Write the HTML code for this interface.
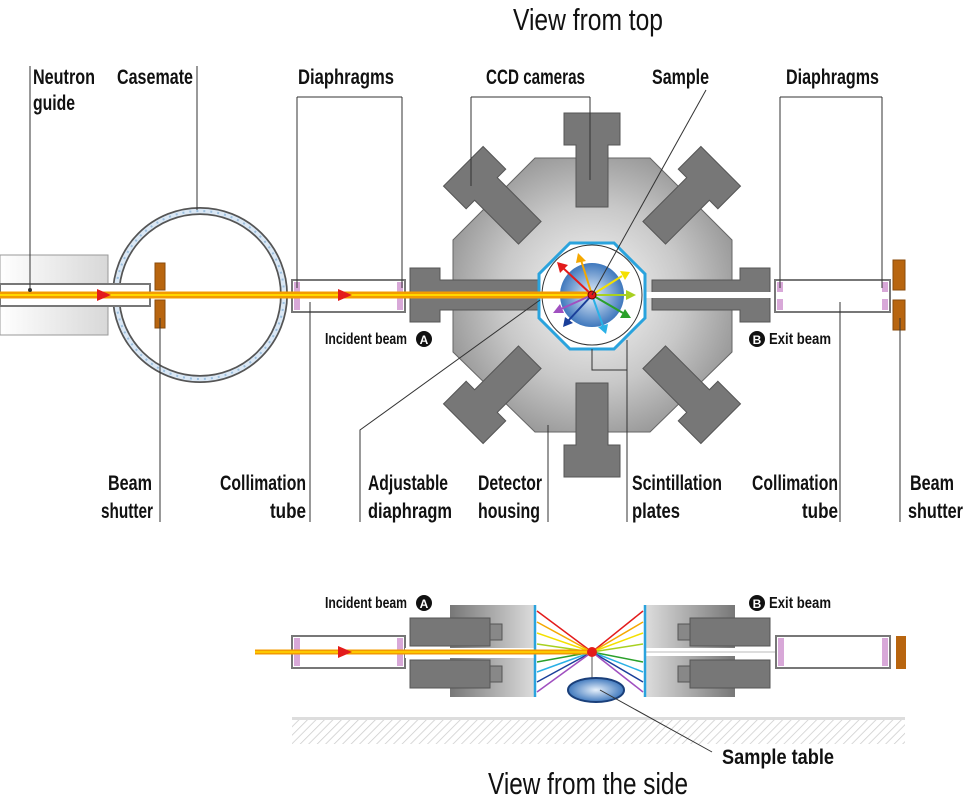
<!DOCTYPE html>
<html><head><meta charset="utf-8"><style>
html,body{margin:0;padding:0;background:#fff}
svg{display:block}
text{font-family:"Liberation Sans Narrow","Liberation Sans",sans-serif;fill:#111;font-weight:bold}
.l{font-size:21px}
</style></head><body>
<svg width="966" height="800" viewBox="0 0 966 800" xmlns="http://www.w3.org/2000/svg">
<defs>
<radialGradient id="hous" cx="0.5" cy="0.5" r="0.6">
<stop offset="0" stop-color="#fafafa"/><stop offset="0.55" stop-color="#c8c8c8"/><stop offset="1" stop-color="#8c8c8c"/>
</radialGradient>
<radialGradient id="sph" cx="0.5" cy="0.5" r="0.5">
<stop offset="0" stop-color="#e6f0fb"/><stop offset="1" stop-color="#3f78bd"/>
</radialGradient>
<linearGradient id="guide" x1="0" x2="1"><stop offset="0" stop-color="#fff"/><stop offset="1" stop-color="#d8d8d8"/></linearGradient>
<linearGradient id="sbox" x1="0" x2="1"><stop offset="0" stop-color="#777"/><stop offset="1" stop-color="#ddd"/></linearGradient>
<linearGradient id="sboxr" x1="1" x2="0"><stop offset="0" stop-color="#777"/><stop offset="1" stop-color="#ddd"/></linearGradient>
<pattern id="hatch" width="6" height="6" patternUnits="userSpaceOnUse" patternTransform="rotate(45)">
<line x1="0" y1="0" x2="0" y2="6" stroke="#ccc" stroke-width="1.5"/></pattern>
<g id="cam"><path d="M-16,-88 L16,-88 L16,-150 L28,-150 L28,-182 L-28,-182 L-28,-150 L-16,-150 Z" fill="#777" stroke="#555" stroke-width="1"/></g>
</defs>

<text x="588" y="30" font-size="31" text-anchor="middle" textLength="150" lengthAdjust="spacingAndGlyphs" style="font-weight:normal">View from top</text>

<rect x="0" y="255" width="108" height="80" fill="url(#guide)" stroke="#999"/>
<circle cx="200" cy="295" r="84" fill="none" stroke="#555" stroke-width="8"/>
<circle cx="200" cy="295" r="84" fill="none" stroke="#dbe8f5" stroke-width="4.5"/>
<circle cx="200" cy="295" r="84" fill="none" stroke="#9cc0e0" stroke-width="2" stroke-dasharray="2 5"/>
<rect x="0" y="284" width="150" height="22" fill="#fff" stroke="#777" stroke-width="2"/>
<rect x="155" y="263" width="10" height="27" fill="#b8650f" stroke="#8a4b0b"/>
<rect x="155" y="300" width="10" height="28" fill="#b8650f" stroke="#8a4b0b"/>

<rect x="292" y="280" width="113" height="32" fill="#fff" stroke="#777" stroke-width="2"/>
<rect x="294" y="282" width="6" height="28" fill="#d8a8d8"/>
<rect x="397" y="282" width="6" height="28" fill="#d8a8d8"/>

<polygon points="535,158 650,158 732,240 732,352 650,432 535,432 453,352 453,240" fill="url(#hous)" stroke="#666"/>
<g transform="translate(592,295)">
<use href="#cam"/>
<use href="#cam" transform="rotate(180)"/>
<use href="#cam" transform="rotate(45)"/>
<use href="#cam" transform="rotate(-45)"/>
<use href="#cam" transform="rotate(135)"/>
<use href="#cam" transform="rotate(-135)"/>
</g>
<path d="M410,268 L440,268 L440,280 L540,280 L540,310 L440,310 L440,322 L410,322 Z" fill="#777" stroke="#555"/>
<path d="M770,268 L740,268 L740,280 L652,280 L652,310 L740,310 L740,322 L770,322 Z" fill="#777" stroke="#555"/>
<rect x="640" y="292" width="135" height="6" fill="#fff"/>
<rect x="775" y="280" width="115" height="32" fill="#fff" stroke="#777" stroke-width="2"/>
<rect x="777" y="282" width="6" height="10" fill="#d8a8d8"/><rect x="777" y="299" width="6" height="11" fill="#d8a8d8"/>
<rect x="882" y="282" width="6" height="10" fill="#d8a8d8"/><rect x="882" y="299" width="6" height="11" fill="#d8a8d8"/>
<rect x="893" y="260" width="12" height="30" fill="#b8650f" stroke="#8a4b0b"/>
<rect x="893" y="300" width="12" height="30" fill="#b8650f" stroke="#8a4b0b"/>

<polygon points="570,243 614,243 645,274 645,318 614,349 570,349 539,318 539,274" fill="#fff" stroke="#2aa3dd" stroke-width="3"/>
<circle cx="592" cy="295" r="50" fill="#fff" stroke="#333" stroke-width="1"/>
<circle cx="592" cy="295" r="32" fill="url(#sph)"/>

<line x1="0" y1="295" x2="592" y2="295" stroke="#f39b00" stroke-width="7"/>
<line x1="0" y1="295" x2="592" y2="295" stroke="#ffd800" stroke-width="2"/>
<polygon points="97,289 111,295 97,301" fill="#e31b1b"/>
<polygon points="338,289 352,295 338,301" fill="#e31b1b"/>

<g stroke-width="2">
<line x1="592" y1="295" x2="562" y2="267" stroke="#e31b1b"/><polygon points="557,262 568,265 560,273" fill="#e31b1b"/>
<line x1="592" y1="295" x2="581" y2="260" stroke="#f5a800"/><polygon points="578,253 586,261 576,263" fill="#f5a800"/>
<line x1="592" y1="295" x2="622" y2="276" stroke="#f4e000"/><polygon points="630,272 620,271 625,280" fill="#f4e000"/>
<line x1="592" y1="295" x2="628" y2="295" stroke="#a8d020"/><polygon points="636,295 626,290 626,300" fill="#a8d020"/>
<line x1="592" y1="295" x2="623" y2="313" stroke="#2aa02a"/><polygon points="631,318 620,318 625,309" fill="#2aa02a"/>
<line x1="592" y1="295" x2="603" y2="326" stroke="#2ab0e6"/><polygon points="606,334 598,327 608,324" fill="#2ab0e6"/>
<line x1="592" y1="295" x2="568" y2="321" stroke="#1a3f9a"/><polygon points="563,327 565,317 573,323" fill="#1a3f9a"/>
<line x1="592" y1="295" x2="561" y2="309" stroke="#a050c0"/><polygon points="553,313 560,304 564,313" fill="#a050c0"/>
</g>
<circle cx="592" cy="295" r="4" fill="#e31b1b" stroke="#600" stroke-width="1"/>

<g stroke="#333" stroke-width="1" fill="none">
<path d="M30,66 V290"/><circle cx="30" cy="290" r="1.5" fill="#333"/>
<path d="M197,66 V210"/>
<path d="M297,97 H402 M297,97 V288 M402,97 V288"/>
<path d="M471,97 H590 M471,97 V186 M590,97 V180"/>
<path d="M706,90 L592,295"/>
<path d="M780,97 H882 M780,97 V288 M882,97 V288"/>
<path d="M160,318 V522"/>
<path d="M310,302 V522"/>
<path d="M360,522 V430 L540,300"/>
<path d="M548,425 V522"/>
<path d="M592,349 V370 H627 V522 M627,340 V370"/>
<path d="M840,302 V522"/>
<path d="M900,318 V522"/>
</g>

<g class="l" lengthAdjust="spacingAndGlyphs">
<text x="33" y="84" textLength="62" lengthAdjust="spacingAndGlyphs">Neutron</text>
<text x="33" y="110" textLength="42" lengthAdjust="spacingAndGlyphs">guide</text>
<text x="117" y="84" textLength="76" lengthAdjust="spacingAndGlyphs">Casemate</text>
<text x="298" y="84" textLength="96" lengthAdjust="spacingAndGlyphs">Diaphragms</text>
<text x="486" y="84" textLength="99" lengthAdjust="spacingAndGlyphs">CCD cameras</text>
<text x="652" y="84" textLength="57" lengthAdjust="spacingAndGlyphs">Sample</text>
<text x="786" y="84" textLength="93" lengthAdjust="spacingAndGlyphs">Diaphragms</text>
<text x="108" y="490" textLength="44" lengthAdjust="spacingAndGlyphs">Beam</text>
<text x="101" y="518" textLength="52" lengthAdjust="spacingAndGlyphs">shutter</text>
<text x="220" y="490" textLength="86" lengthAdjust="spacingAndGlyphs">Collimation</text>
<text x="270" y="518" textLength="36" lengthAdjust="spacingAndGlyphs">tube</text>
<text x="368" y="490" textLength="80" lengthAdjust="spacingAndGlyphs">Adjustable</text>
<text x="368" y="518" textLength="84" lengthAdjust="spacingAndGlyphs">diaphragm</text>
<text x="478" y="490" textLength="64" lengthAdjust="spacingAndGlyphs">Detector</text>
<text x="478" y="518" textLength="62" lengthAdjust="spacingAndGlyphs">housing</text>
<text x="632" y="490" textLength="90" lengthAdjust="spacingAndGlyphs">Scintillation</text>
<text x="632" y="518" textLength="48" lengthAdjust="spacingAndGlyphs">plates</text>
<text x="752" y="490" textLength="86" lengthAdjust="spacingAndGlyphs">Collimation</text>
<text x="802" y="518" textLength="36" lengthAdjust="spacingAndGlyphs">tube</text>
<text x="910" y="490" textLength="44" lengthAdjust="spacingAndGlyphs">Beam</text>
<text x="908" y="518" textLength="55" lengthAdjust="spacingAndGlyphs">shutter</text>
</g>
<g font-size="16">
<text x="325" y="344" textLength="82" lengthAdjust="spacingAndGlyphs">Incident beam</text>
<circle cx="424" cy="339" r="8" fill="#111"/><text x="424" y="344" font-size="12" text-anchor="middle" style="fill:#fff">A</text>
<circle cx="757" cy="339" r="8" fill="#111"/><text x="757" y="344" font-size="12" text-anchor="middle" style="fill:#fff">B</text>
<text x="769" y="344" textLength="62" lengthAdjust="spacingAndGlyphs">Exit beam</text>
<text x="325" y="608" textLength="82" lengthAdjust="spacingAndGlyphs">Incident beam</text>
<circle cx="424" cy="603" r="8" fill="#111"/><text x="424" y="608" font-size="12" text-anchor="middle" style="fill:#fff">A</text>
<circle cx="757" cy="603" r="8" fill="#111"/><text x="757" y="608" font-size="12" text-anchor="middle" style="fill:#fff">B</text>
<text x="769" y="608" textLength="62" lengthAdjust="spacingAndGlyphs">Exit beam</text>
</g>

<rect x="292" y="717" width="613" height="3" fill="#ddd"/>
<rect x="292" y="720" width="613" height="24" fill="url(#hatch)"/>
<rect x="292" y="636" width="113" height="32" fill="#fff" stroke="#777" stroke-width="2"/>
<rect x="294" y="638" width="6" height="28" fill="#d8a8d8"/><rect x="397" y="638" width="6" height="28" fill="#d8a8d8"/>
<rect x="450" y="605" width="85" height="92" fill="url(#sbox)"/>
<rect x="410" y="618" width="80" height="28" fill="#777" stroke="#555"/>
<rect x="410" y="660" width="80" height="28" fill="#777" stroke="#555"/>
<rect x="490" y="624" width="12" height="16" fill="#888" stroke="#555"/>
<rect x="490" y="666" width="12" height="16" fill="#888" stroke="#555"/>
<rect x="405" y="648" width="135" height="10" fill="#fff"/>
<line x1="535" y1="605" x2="535" y2="697" stroke="#2aa3dd" stroke-width="2.5"/>
<rect x="645" y="605" width="90" height="92" fill="url(#sboxr)"/>
<rect x="690" y="618" width="80" height="28" fill="#777" stroke="#555"/>
<rect x="690" y="660" width="80" height="28" fill="#777" stroke="#555"/>
<rect x="678" y="624" width="12" height="16" fill="#888" stroke="#555"/>
<rect x="678" y="666" width="12" height="16" fill="#888" stroke="#555"/>
<rect x="645" y="648" width="135" height="8" fill="#fff"/>
<line x1="645" y1="652" x2="778" y2="652" stroke="#bbb" stroke-width="1"/>
<line x1="645" y1="605" x2="645" y2="697" stroke="#2aa3dd" stroke-width="2.5"/>
<rect x="776" y="636" width="114" height="32" fill="#fff" stroke="#777" stroke-width="2"/>
<rect x="778" y="638" width="6" height="28" fill="#d8a8d8"/><rect x="882" y="638" width="6" height="28" fill="#d8a8d8"/>
<rect x="896" y="636" width="10" height="33" fill="#b8650f"/>
<g stroke-width="1.5">
<line x1="592" y1="652" x2="537" y2="611" stroke="#e31b1b"/><line x1="592" y1="652" x2="643" y2="611" stroke="#e31b1b"/>
<line x1="592" y1="652" x2="537" y2="622" stroke="#f5a800"/><line x1="592" y1="652" x2="643" y2="622" stroke="#f5a800"/>
<line x1="592" y1="652" x2="537" y2="633" stroke="#f4e000"/><line x1="592" y1="652" x2="643" y2="633" stroke="#f4e000"/>
<line x1="592" y1="652" x2="537" y2="644" stroke="#a8d020"/><line x1="592" y1="652" x2="643" y2="644" stroke="#a8d020"/>
<line x1="592" y1="652" x2="537" y2="662" stroke="#2aa02a"/><line x1="592" y1="652" x2="643" y2="662" stroke="#2aa02a"/>
<line x1="592" y1="652" x2="537" y2="672" stroke="#2ab0e6"/><line x1="592" y1="652" x2="643" y2="672" stroke="#2ab0e6"/>
<line x1="592" y1="652" x2="537" y2="682" stroke="#1a3f9a"/><line x1="592" y1="652" x2="643" y2="682" stroke="#1a3f9a"/>
<line x1="592" y1="652" x2="537" y2="692" stroke="#a050c0"/><line x1="592" y1="652" x2="643" y2="692" stroke="#a050c0"/>
</g>
<line x1="255" y1="652" x2="592" y2="652" stroke="#f39b00" stroke-width="5"/>
<line x1="255" y1="652" x2="592" y2="652" stroke="#ffd800" stroke-width="1.5"/>
<polygon points="338,646 352,652 338,658" fill="#e31b1b"/>
<line x1="592" y1="652" x2="592" y2="678" stroke="#555"/>
<circle cx="592" cy="652" r="5" fill="#e31b1b"/>
<ellipse cx="596" cy="690" rx="28" ry="12" fill="url(#sph)" stroke="#1a3f7a" stroke-width="2"/>
<line x1="600" y1="690" x2="712" y2="752" stroke="#333"/>
<text x="722" y="764" class="l" textLength="112" lengthAdjust="spacingAndGlyphs">Sample table</text>
<text x="588" y="794" font-size="31" text-anchor="middle" textLength="200" lengthAdjust="spacingAndGlyphs" style="font-weight:normal">View from the side</text>
</svg>
</body></html>
